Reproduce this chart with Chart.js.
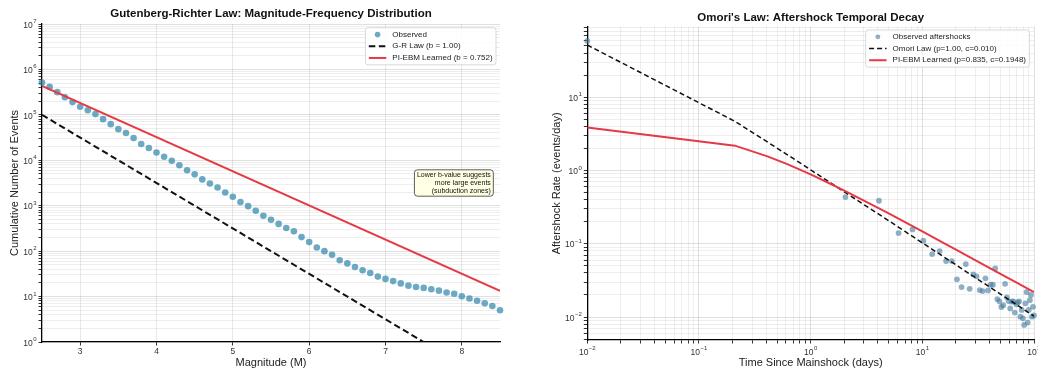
<!DOCTYPE html>
<html lang="en">
<head>
<meta charset="UTF-8">
<title>Gutenberg-Richter and Omori</title>
<script src="https://cdn.jsdelivr.net/npm/chart.js"></script>
<style>
  body { margin: 0; background: #fff; }
  .panel { position: absolute; top: 0; width: 519px; height: 375px; }
</style>
</head>
<body>
<div class="panel" style="left:0"><canvas id="gr-chart" width="519" height="375"></canvas></div>
<div class="panel" style="left:519px"><canvas id="omori-chart" width="519" height="375"></canvas></div>
<script>
// ---- Gutenberg-Richter panel ----
var magnitudes = [2.5, 2.6, 2.7, 2.8, 2.9, 3.0, 3.1, 3.2, 3.3, 3.4, 3.5, 3.6, 3.7, 3.8, 3.9,
  4.0, 4.1, 4.2, 4.3, 4.4, 4.5, 4.6, 4.7, 4.8, 4.9, 5.0, 5.1, 5.2, 5.3, 5.4, 5.5, 5.6, 5.7,
  5.8, 5.9, 6.0, 6.1, 6.2, 6.3, 6.4, 6.5, 6.6, 6.7, 6.8, 6.9, 7.0, 7.1, 7.2, 7.3, 7.4, 7.5,
  7.6, 7.7, 7.8, 7.9, 8.0, 8.1, 8.2, 8.3, 8.4, 8.5];
var observedCounts = [513000, 412000, 316000, 245000, 191000, 151000, 126000, 104000, 80400, 62400,
  48400, 39800, 30900, 22900, 18600, 14800, 12000, 9770, 7760, 6030,
  4900, 3800, 3090, 2510, 1950, 1580, 1200, 977, 776, 603,
  490, 398, 324, 275, 204, 158, 120, 100, 83.2, 63.1,
  53.7, 44.7, 38.0, 33.1, 27.5, 24.5, 21.9, 19.5, 17.4, 16.2,
  15.5, 14.5, 13.5, 12.3, 11.5, 10.2, 9.1, 8.1, 7.1, 6.2, 5.0];
var grMag = [2.5, 7.5];
var grCounts = [100000, 1];
var ebmMag = [2.5, 8.5];
var ebmCounts = [436000, 13.4];
var magTickValues = [3, 4, 5, 6, 7, 8];

// ---- Omori panel ----
var aftershockDays = [0.01, 2.05, 4.09, 6.13, 8.17, 10.21, 12.25, 14.29, 16.33, 18.37,
  20.42, 22.46, 24.50, 26.54, 28.58, 30.62, 32.66, 34.70, 36.74, 38.78,
  40.82, 42.86, 44.90, 46.94, 48.98, 51.03, 53.07, 55.11, 57.15, 59.19,
  61.23, 63.27, 65.31, 67.35, 69.39, 71.43, 73.47, 75.51, 77.55, 79.59,
  81.63, 83.67, 85.71, 87.76, 89.80, 91.84, 93.88, 95.92, 97.96, 100];
var aftershockRates = [58.6, 0.434, 0.386, 0.140, 0.157, 0.110, 0.0723, 0.0795, 0.0581, 0.058,
  0.0327, 0.0256, 0.0528, 0.0243, 0.0382, 0.0359, 0.0233, 0.0226, 0.0337, 0.0231,
  0.0276, 0.0276, 0.0461, 0.0176, 0.0164, 0.0137, 0.0145, 0.0284, 0.0186, 0.0165,
  0.0131, 0.0162, 0.0164, 0.0115, 0.0149, 0.0158, 0.0164, 0.0101, 0.0125, 0.0096,
  0.0078, 0.0154, 0.0219, 0.0084, 0.0125, 0.0170, 0.0200, 0.0101, 0.0138, 0.0105];
var curveDays = [0.01, 0.21, 0.41, 0.61, 0.81, 1.01, 1.5, 2, 3, 5, 7, 10, 15, 20, 30, 50, 70, 100];
var omoriRates = [51.5, 4.68, 2.45, 1.66, 1.26, 1.01, 0.682, 0.512, 0.342, 0.206, 0.147, 0.103,
  0.0686, 0.0515, 0.0343, 0.0206, 0.0147, 0.0103];
var ebmRates = [3.85, 2.18, 1.56, 1.23, 1.02, 0.877, 0.659, 0.531, 0.388, 0.259, 0.197, 0.147,
  0.1056, 0.0832, 0.0595, 0.0389, 0.0294, 0.0219];

var FONT = '"Liberation Sans", Arial, Helvetica, sans-serif';

function pts(xs, ys) {
  return xs.map(function (x, i) { return { x: x, y: ys[i] }; });
}

// every 1..9 x 10^n inside the axis range, decades flagged as major
function logTicks(axis) {
  var out = [];
  var lo = Math.floor(Math.log10(axis.min)), hi = Math.ceil(Math.log10(axis.max));
  for (var e = lo; e <= hi; e++) {
    for (var m = 1; m < 10; m++) {
      var v = m * Math.pow(10, e);
      if (v >= axis.min * 0.9999 && v <= axis.max * 1.0001) out.push({ value: v, major: m === 1 });
    }
  }
  axis.ticks = out;
}

var gridColor = function (c) {
  return c.tick && c.tick.major ? 'rgba(0,0,0,0.12)' : 'rgba(0,0,0,0.065)';
};

function drawPow(ctx, x, y, exp, align) {
  var base = '10';
  var sup = exp < 0 ? '\u2212' + (-exp) : String(exp);
  ctx.font = '8.5px ' + FONT;
  var bw = ctx.measureText(base).width;
  ctx.font = '6px ' + FONT;
  var sw = ctx.measureText(sup).width;
  var left = align === 'right' ? x - bw - sw - 0.5 : x - (bw + sw + 0.5) / 2;
  ctx.textAlign = 'left';
  ctx.textBaseline = 'middle';
  ctx.fillStyle = '#333';
  ctx.font = '8.5px ' + FONT;
  ctx.fillText(base, left, y);
  ctx.font = '6px ' + FONT;
  ctx.fillText(sup, left + bw + 0.5, y - 4);
}

// 10^n labels for log axes
var powLabels = {
  id: 'powLabels',
  afterDraw: function (chart, args, opts) {
    var ctx = chart.ctx, area = chart.chartArea;
    ctx.save();
    (opts.axes || []).forEach(function (id) {
      var scale = chart.scales[id];
      scale.ticks.forEach(function (t) {
        if (!t.major) return;
        var exp = Math.round(Math.log10(t.value));
        var p = scale.getPixelForValue(t.value);
        if (scale.isHorizontal()) drawPow(ctx, p, area.bottom + 12.7, exp, 'center');
        else drawPow(ctx, area.left - 5.5, p + 1.4, exp, 'right');
      });
    });
    ctx.restore();
  }
};

// legend box drawn inside the plot, upper right
var boxLegend = {
  id: 'boxLegend',
  afterDraw: function (chart, args, opts) {
    var ctx = chart.ctx, area = chart.chartArea;
    var items = chart.data.datasets;
    ctx.save();
    ctx.font = '8px ' + FONT;
    var textW = Math.max.apply(null, items.map(function (d) { return ctx.measureText(d.label).width; }));
    var rowH = 11.7, padX = 3.4, markW = 17.5, gap = 6;
    var w = padX + markW + gap + textW + padX;
    var h = rowH * items.length + 2;
    var x = area.right - opts.inset - w;
    var y = area.top + opts.top;
    ctx.beginPath();
    ctx.roundRect(x, y, w, h, 2.5);
    ctx.fillStyle = 'rgba(255,255,255,0.85)';
    ctx.fill();
    ctx.strokeStyle = '#cfcfcf';
    ctx.lineWidth = 0.8;
    ctx.stroke();
    items.forEach(function (d, i) {
      var cy = y + 1 + rowH * (i + 0.5);
      var mx = x + padX;
      if (d.showLine) {
        ctx.beginPath();
        ctx.setLineDash(d.borderDash || []);
        ctx.strokeStyle = d.borderColor;
        ctx.lineWidth = d.borderWidth;
        ctx.moveTo(mx, cy);
        ctx.lineTo(mx + markW, cy);
        ctx.stroke();
        ctx.setLineDash([]);
      } else {
        ctx.beginPath();
        ctx.arc(mx + markW / 2, cy, d.pointRadius * 0.85, 0, Math.PI * 2);
        ctx.fillStyle = d.backgroundColor;
        ctx.fill();
      }
      ctx.fillStyle = '#222';
      ctx.textAlign = 'left';
      ctx.textBaseline = 'middle';
      ctx.fillText(d.label, mx + markW + gap, cy);
    });
    ctx.restore();
  }
};

// small right-aligned note in a yellow box
var noteBox = {
  id: 'noteBox',
  afterDatasetsDraw: function (chart, args, opts) {
    if (!opts.lines) return;
    var ctx = chart.ctx, area = chart.chartArea;
    ctx.save();
    ctx.font = '7px ' + FONT;
    var lineH = 7.6;
    var w = Math.max.apply(null, opts.lines.map(function (s) { return ctx.measureText(s).width; }));
    var h = lineH * opts.lines.length;
    var xr = area.left + opts.ax * (area.right - area.left);
    var yc = area.top + opts.ay * (area.bottom - area.top);
    ctx.beginPath();
    ctx.roundRect(xr - w - 2.5, yc - h / 2 - 1.8, w + 5, h + 3.6, 3);
    ctx.fillStyle = 'rgba(255,255,224,0.9)';
    ctx.fill();
    ctx.strokeStyle = '#333';
    ctx.lineWidth = 0.8;
    ctx.stroke();
    ctx.fillStyle = '#111';
    ctx.textAlign = 'right';
    ctx.textBaseline = 'middle';
    opts.lines.forEach(function (s, i) {
      ctx.fillText(s, xr, yc - h / 2 + lineH * (i + 0.5));
    });
    ctx.restore();
  }
};

var axisBorder = { color: '#000', width: 1.3 };
var titleFont = { family: FONT, size: 11.5, weight: 'bold' };
var labelFont = { family: FONT, size: 11 };

new Chart(document.getElementById('gr-chart'), {
  type: 'scatter',
  data: {
    datasets: [{
      label: 'Observed',
      data: pts(magnitudes, observedCounts),
      backgroundColor: 'rgba(46,134,171,0.7)',
      borderWidth: 0,
      pointRadius: 3.3,
      clip: false,
      order: 3
    }, {
      label: 'G-R Law (b = 1.00)',
      data: pts(grMag, grCounts),
      showLine: true,
      borderColor: '#111',
      borderWidth: 2,
      borderDash: [6.5, 3.5],
      pointRadius: 0,
      order: 2
    }, {
      label: 'PI-EBM Learned (b = 0.752)',
      data: pts(ebmMag, ebmCounts),
      showLine: true,
      borderColor: '#E63946',
      borderWidth: 2,
      pointRadius: 0,
      order: 1
    }]
  },
  options: {
    responsive: false,
    animation: false,
    layout: { padding: { left: 0, right: 19, top: 0, bottom: 0 } },
    scales: {
      x: {
        type: 'linear', min: 2.5, max: 8.5,
        afterBuildTicks: function (a) { a.ticks = magTickValues.map(function (v) { return { value: v }; }); },
        afterFit: function (s) { s.height = 33; },
        grid: { color: 'rgba(0,0,0,0.09)', tickColor: '#333', tickLength: 3.5 },
        border: axisBorder,
        ticks: { font: { family: FONT, size: 8.5 }, color: '#333', padding: 1, autoSkip: false, maxRotation: 0 },
        title: { display: true, text: 'Magnitude (M)', font: labelFont, color: '#222', padding: { top: 0, bottom: 5.4 } }
      },
      y: {
        type: 'logarithmic', min: 1, max: 1e7,
        afterBuildTicks: logTicks,
        afterFit: function (s) { s.width = 42; },
        grid: { color: gridColor, tickColor: '#333', tickLength: 3.5 },
        border: axisBorder,
        ticks: { display: false },
        title: { display: true, text: 'Cumulative Number of Events', font: labelFont, color: '#222', padding: { top: 8.1, bottom: 0 } }
      }
    },
    plugins: {
      legend: { display: false },
      tooltip: { enabled: false },
      title: {
        display: true, fullSize: false,
        text: 'Gutenberg-Richter Law: Magnitude-Frequency Distribution',
        font: titleFont, color: '#111', padding: { top: 7.4, bottom: 2.8 }
      },
      powLabels: { axes: ['y'] },
      boxLegend: { inset: 4, top: 3.7 },
      noteBox: { ax: 0.98, ay: 0.5, lines: ['Lower b-value suggests', 'more large events', '(subduction zones)'] }
    }
  },
  plugins: [noteBox, powLabels, boxLegend]
});

new Chart(document.getElementById('omori-chart'), {
  type: 'scatter',
  data: {
    datasets: [{
      label: 'Observed aftershocks',
      data: pts(aftershockDays, aftershockRates),
      backgroundColor: 'rgba(69,123,157,0.6)',
      borderWidth: 0,
      pointRadius: 2.9,
      clip: false,
      order: 3
    }, {
      label: 'Omori Law (p=1.00, c=0.010)',
      data: pts(curveDays, omoriRates),
      showLine: true,
      borderColor: '#111',
      borderWidth: 1.5,
      borderDash: [5, 3],
      pointRadius: 0,
      order: 2
    }, {
      label: 'PI-EBM Learned (p=0.835, c=0.1948)',
      data: pts(curveDays, ebmRates),
      showLine: true,
      borderColor: '#E63946',
      borderWidth: 2,
      pointRadius: 0,
      order: 1
    }]
  },
  options: {
    responsive: false,
    animation: false,
    layout: { padding: { left: 0, right: 1.7, top: 0, bottom: 0 } },
    scales: {
      x: {
        type: 'logarithmic', min: 0.01, max: 100,
        afterBuildTicks: logTicks,
        afterFit: function (s) { s.height = 35; },
        grid: { color: gridColor, tickColor: '#333', tickLength: 3.5 },
        border: axisBorder,
        ticks: { display: false },
        title: { display: true, text: 'Time Since Mainshock (days)', font: labelFont, color: '#222', padding: { top: 0, bottom: 5.7 } }
      },
      y: {
        type: 'logarithmic', min: 0.00486, max: 91.6,
        afterBuildTicks: logTicks,
        afterFit: function (s) { s.width = 68.3; },
        grid: { color: gridColor, tickColor: '#333', tickLength: 3.5 },
        border: axisBorder,
        ticks: { display: false },
        title: { display: true, text: 'Aftershock Rate (events/day)', font: labelFont, color: '#222', padding: { top: 31.7, bottom: 0 } }
      }
    },
    plugins: {
      legend: { display: false },
      tooltip: { enabled: false },
      title: {
        display: true, fullSize: false,
        text: "Omori's Law: Aftershock Temporal Decay",
        font: titleFont, color: '#111', padding: { top: 11.4, bottom: 1.5 }
      },
      powLabels: { axes: ['x', 'y'] },
      boxLegend: { inset: 4.6, top: 3.3 }
    }
  },
  plugins: [powLabels, boxLegend]
});
</script>
</body>
</html>
